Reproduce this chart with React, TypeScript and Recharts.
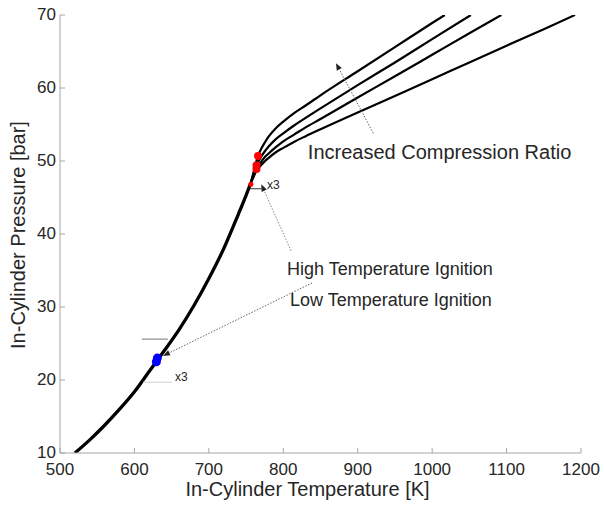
import React from 'react';
import {
  ComposedChart, Line, Scatter, XAxis, YAxis, ReferenceLine, ReferenceDot, Label,
} from 'recharts';

// ---- data (Temperature [K], Pressure [bar]) ----
const mainCurve: [number, number][] = [
  [520, 10], [540, 11.8], [560, 13.8], [580, 16.0], [600, 18.4], [620, 21.2],
  [640, 24.0], [660, 26.9], [680, 30.2], [700, 33.9], [720, 38.0], [740, 42.8],
  [750, 45.3], [756, 46.9],
];
const branch1: [number, number][] = [
  [756, 46.9], [761, 48.8], [766, 50.7], [770, 51.6], [775, 52.5], [780, 53.3],
  [790, 54.5], [800, 55.4], [815, 56.6], [830, 57.6], [850, 59.0], [900, 62.3],
  [950, 65.6], [1000, 68.9], [1017, 70],
];
const branch2: [number, number][] = [
  [756, 46.9], [760, 48.2], [764, 49.4], [770, 50.55], [775, 51.3], [780, 51.95],
  [790, 53.0], [800, 53.8], [815, 54.9], [830, 55.9], [850, 57.2], [900, 60.4],
  [950, 63.5], [1000, 66.7], [1052, 70],
];
const branch3: [number, number][] = [
  [756, 46.9], [760, 47.95], [764, 48.9], [770, 49.85], [775, 50.5], [780, 51.0],
  [790, 51.9], [800, 52.7], [815, 53.65], [830, 54.6], [850, 55.75], [900, 58.7],
  [950, 61.6], [1000, 64.55], [1050, 67.5], [1093, 70],
];
const branch4: [number, number][] = [
  [756, 46.9], [760, 47.8], [763, 48.5], [770, 49.4], [775, 49.95], [780, 50.4],
  [790, 51.2], [800, 51.8], [815, 52.65], [830, 53.4], [850, 54.35], [900, 56.65],
  [950, 58.9], [1000, 61.2], [1050, 63.5], [1100, 65.8], [1150, 68.05], [1192, 70],
];
const htiPoints: [number, number][] = [[766, 50.7], [764, 49.4], [764, 48.9]];
const htiSmall: [number, number][] = [[756.5, 46.8]];
const ltiPoints: [number, number][] = [[629.5, 22.5], [630.8, 23.0]];

const xTicks = [500, 600, 700, 800, 900, 1000, 1100, 1200];
const yTicks = [10, 20, 30, 40, 50, 60, 70];

const toRows = (arr: [number, number][]) => arr.map(([t, p]) => ({ t, p }));

const AXIS = '#a6a6a6';
const TXT = '#262626';
const FONT = 'Liberation Sans, Arial, Helvetica, sans-serif';

const BottomTick = (props: any) => {
  const { x, y, payload } = props;
  return (
    <g>
      <line x1={x} y1={y} x2={x} y2={y - 5} stroke={AXIS} />
      <text x={x} y={y + 22} textAnchor="middle" fill={TXT} fontSize={17} fontFamily={FONT}>
        {payload.value}
      </text>
    </g>
  );
};
const TopTick = (props: any) => {
  const { x, y } = props;
  return <line x1={x} y1={y} x2={x} y2={y + 5} stroke={AXIS} />;
};
const LeftTick = (props: any) => {
  const { x, y, payload } = props;
  return (
    <g>
      <line x1={x} y1={y} x2={x + 5} y2={y} stroke={AXIS} />
      <text x={x - 4} y={y + 5} textAnchor="end" fill={TXT} fontSize={17} fontFamily={FONT}>
        {payload.value}
      </text>
    </g>
  );
};
const RightTick = (props: any) => {
  const { x, y } = props;
  return <line x1={x} y1={y} x2={x - 5} y2={y} stroke={AXIS} />;
};

const arrowShape = (color: string, dash: string | undefined, head: boolean) => (props: any) => {
  const { x1, y1, x2, y2 } = props;
  const dx = x2 - x1;
  const dy = y2 - y1;
  const len = Math.sqrt(dx * dx + dy * dy) || 1;
  const ux = dx / len;
  const uy = dy / len;
  const hl = 7;
  const hw = 2.8;
  const bx = x2 - ux * hl;
  const by = y2 - uy * hl;
  const pts = `${x2},${y2} ${bx - uy * hw},${by + ux * hw} ${bx + uy * hw},${by - ux * hw}`;
  return (
    <g>
      <line x1={x1} y1={y1} x2={head ? bx : x2} y2={head ? by : y2} stroke={color} strokeWidth={1} strokeDasharray={dash} />
      {head && <polygon points={pts} fill="#222" />}
    </g>
  );
};

const textShape = (txt: string, size: number) => (props: any) => {
  const { cx, cy } = props;
  return (
    <text x={cx} y={cy} dy="0.35em" textAnchor="start" fill={TXT} fontSize={size} fontFamily={FONT}>
      {txt}
    </text>
  );
};

const dotShape = (color: string, r: number) => (props: any) => {
  const { cx, cy } = props;
  return <circle cx={cx} cy={cy} r={r} fill={color} />;
};

export default function App() {
  return (
    <div style={{ position: 'absolute', left: 0, top: 0, background: '#fff' }}>
      <ComposedChart width={604} height={512} margin={{ top: 15, right: 23, bottom: 0, left: 0 }}>
        <XAxis
          dataKey="t" type="number" domain={[500, 1200]} ticks={xTicks} interval={0}
          allowDataOverflow height={59} tickSize={0} tickMargin={0} tickLine={false}
          axisLine={{ stroke: AXIS }} tick={<BottomTick />}
        >
          <Label
            content={(p: any) => {
              const vb = p.viewBox;
              return (
                <text x={vb.x + vb.width / 2 - 13} y={vb.y + 43} textAnchor="middle" fill={TXT} fontSize={20} fontFamily={FONT}>
                  In-Cylinder Temperature [K]
                </text>
              );
            }}
          />
        </XAxis>
        <XAxis
          xAxisId="top" orientation="top" dataKey="t" type="number" domain={[500, 1200]} ticks={xTicks}
          interval={0} allowDataOverflow height={0} tickSize={0} tickMargin={0} tickLine={false}
          axisLine={{ stroke: AXIS }} tick={<TopTick />}
        />
        <YAxis
          type="number" domain={[10, 70]} ticks={yTicks} interval={0} allowDataOverflow width={60}
          tickSize={0} tickMargin={0} tickLine={false} axisLine={{ stroke: AXIS }} tick={<LeftTick />}
        >
          <Label
            content={(p: any) => {
              const vb = p.viewBox;
              const cx = 18;
              const cy = vb.y + vb.height / 2 + 1;
              return (
                <text x={cx} y={cy} dy="0.35em" textAnchor="middle" fill={TXT} fontSize={20} fontFamily={FONT}
                  transform={`rotate(-90 ${cx} ${cy})`}>
                  In-Cylinder Pressure [bar]
                </text>
              );
            }}
          />
        </YAxis>
        <YAxis
          yAxisId="right" orientation="right" type="number" domain={[10, 70]} ticks={yTicks} interval={0}
          allowDataOverflow width={0} tickSize={0} tickMargin={0} tickLine={false}
          axisLine={{ stroke: AXIS }} tick={<RightTick />}
        />

        <Line data={toRows(mainCurve)} dataKey="p" type="monotone" stroke="#000" strokeWidth={3.3} dot={false} isAnimationActive={false} />
        <Line data={toRows(branch1)} dataKey="p" type="monotone" stroke="#000" strokeWidth={2.2} dot={false} isAnimationActive={false} />
        <Line data={toRows(branch2)} dataKey="p" type="monotone" stroke="#000" strokeWidth={2.2} dot={false} isAnimationActive={false} />
        <Line data={toRows(branch3)} dataKey="p" type="monotone" stroke="#000" strokeWidth={2.2} dot={false} isAnimationActive={false} />
        <Line data={toRows(branch4)} dataKey="p" type="monotone" stroke="#000" strokeWidth={2.2} dot={false} isAnimationActive={false} />

        <Scatter data={toRows(htiPoints)} dataKey="p" shape={dotShape('#ff0000', 4)} isAnimationActive={false} />
        <Scatter data={toRows(htiSmall)} dataKey="p" shape={dotShape('#ff0000', 2.5)} isAnimationActive={false} />
        <Scatter data={toRows(ltiPoints)} dataKey="p" shape={dotShape('#0000ff', 4.5)} isAnimationActive={false} />

        {/* Increased compression ratio arrow */}
        <ReferenceLine segment={[{ x: 921, y: 53.8 }, { x: 870.8, y: 63.4 }]} shape={arrowShape('#666', '1.5 1.5', true)} ifOverflow="visible" />
        {/* High temperature ignition arrow */}
        <ReferenceLine segment={[{ x: 810.4, y: 37.7 }, { x: 770.5, y: 46.8 }]} shape={arrowShape('#888', '1.5 1.5', true)} ifOverflow="visible" />
        {/* Low temperature ignition arrow */}
        <ReferenceLine segment={[{ x: 838.6, y: 33.3 }, { x: 638.4, y: 23.3 }]} shape={arrowShape('#666', '1.5 1.5', true)} ifOverflow="visible" />
        {/* zoom markers */}
        <ReferenceLine segment={[{ x: 755, y: 46.2 }, { x: 773, y: 46.2 }]} shape={arrowShape('#333', undefined, false)} ifOverflow="visible" />
        <ReferenceLine segment={[{ x: 610, y: 25.6 }, { x: 645, y: 25.6 }]} shape={arrowShape('#777', undefined, false)} ifOverflow="visible" />
        <ReferenceLine segment={[{ x: 611.5, y: 19.7 }, { x: 650.5, y: 19.7 }]} shape={arrowShape('#d0d0d0', undefined, false)} ifOverflow="visible" />

        <ReferenceDot x={833} y={51.2} r={0} shape={textShape('Increased Compression Ratio', 20)} ifOverflow="visible" />
        <ReferenceDot x={805} y={35.3} r={0} shape={textShape('High Temperature Ignition', 18)} ifOverflow="visible" />
        <ReferenceDot x={809} y={31.0} r={0} shape={textShape('Low Temperature Ignition', 18)} ifOverflow="visible" />
        <ReferenceDot x={778} y={46.7} r={0} shape={textShape('x3', 12)} ifOverflow="visible" />
        <ReferenceDot x={654.5} y={20.4} r={0} shape={textShape('x3', 12)} ifOverflow="visible" />
      </ComposedChart>
    </div>
  );
}
